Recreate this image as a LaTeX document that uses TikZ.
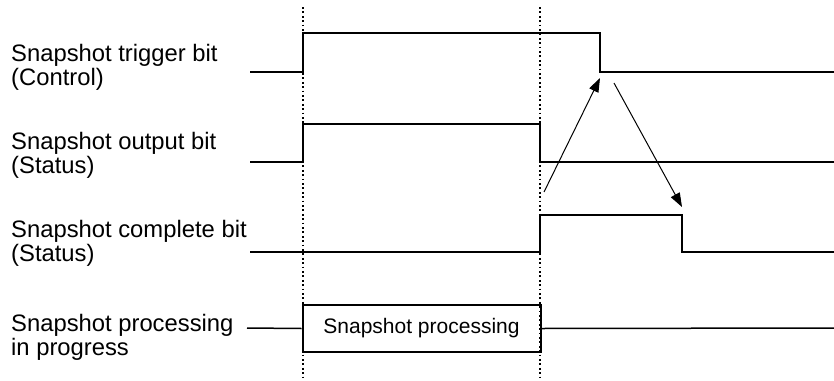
\documentclass[tikz,border=0pt]{standalone}
\usepackage{fontspec}
\setmainfont{Liberation Sans}
\usetikzlibrary{arrows.meta}
\begin{document}
\begin{tikzpicture}[x=1pt,y=-1pt,
  lbl/.style={anchor=base west,align=left,inner sep=0pt,font=\fontsize{23.8}{23.5}\selectfont},
  wave/.style={line width=2pt,line join=miter},
  guide/.style={line width=1.8pt,dash pattern=on 1.8pt off 2.6pt},
  cause/.style={line width=1pt,-{Triangle[length=14pt,width=10pt]}},
  procbox/.style={draw,line width=2pt,minimum width=238pt,minimum height=47pt,inner sep=0pt,font=\fontsize{21}{24}\selectfont}]
\useasboundingbox (0,0) rectangle (834,380);
% guides
\coordinate (g1t) at (303,7); \coordinate (g1b) at (303,380);
\coordinate (g2t) at (540,7); \coordinate (g2b) at (540,380);
\draw[guide] (g1t) -- (g1b);
\draw[guide] (g2t) -- (g2b);
% labels (anchored at the baseline of the last line)
\node[lbl] (l1) at (11,85) {Snapshot trigger bit\\(Control)};
\node[lbl] (l2) at (11,173) {Snapshot output bit\\(Status)};
\node[lbl] (l3) at (11,261) {Snapshot complete bit\\(Status)};
\node[lbl] (l4) at (11,355) {Snapshot processing\\in progress};
% trigger
\coordinate (t0) at (250,72); \coordinate (t1) at (303,72); \coordinate (t2) at (303,33);
\coordinate (t3) at (600,33); \coordinate (t4) at (600,72); \coordinate (t5) at (834,72);
\draw[wave] (t0) -- (t1) -- (t2) -- (t3) -- (t4) -- (t5);
% output
\coordinate (o0) at (250,162); \coordinate (o1) at (303,162); \coordinate (o2) at (303,124);
\coordinate (o3) at (540,124); \coordinate (o4) at (540,162); \coordinate (o5) at (834,162);
\draw[wave] (o0) -- (o1) -- (o2) -- (o3) -- (o4) -- (o5);
% complete
\coordinate (c0) at (250,252); \coordinate (c1) at (540,252); \coordinate (c2) at (540,215);
\coordinate (c3) at (682,215); \coordinate (c4) at (682,252); \coordinate (c5) at (834,252);
\draw[wave] (c0) -- (c1) -- (c2) -- (c3) -- (c4) -- (c5);
% processing
\node[procbox] (pb) at (421.5,328.5) {Snapshot processing};
\coordinate (p0) at (247,328); \coordinate (p1) at (834,328);
\draw[line width=1.5pt] (p0) -- (pb.west);
\draw[line width=1.5pt] (pb.east) -- (p1);
% causality arrows
\coordinate (a1s) at (544,192); \coordinate (a1e) at (600,78);
\coordinate (a2s) at (614,83); \coordinate (a2e) at (682,207);
\draw[cause] (a1s) -- (a1e);
\draw[cause] (a2s) -- (a2e);
\end{tikzpicture}
\end{document}
